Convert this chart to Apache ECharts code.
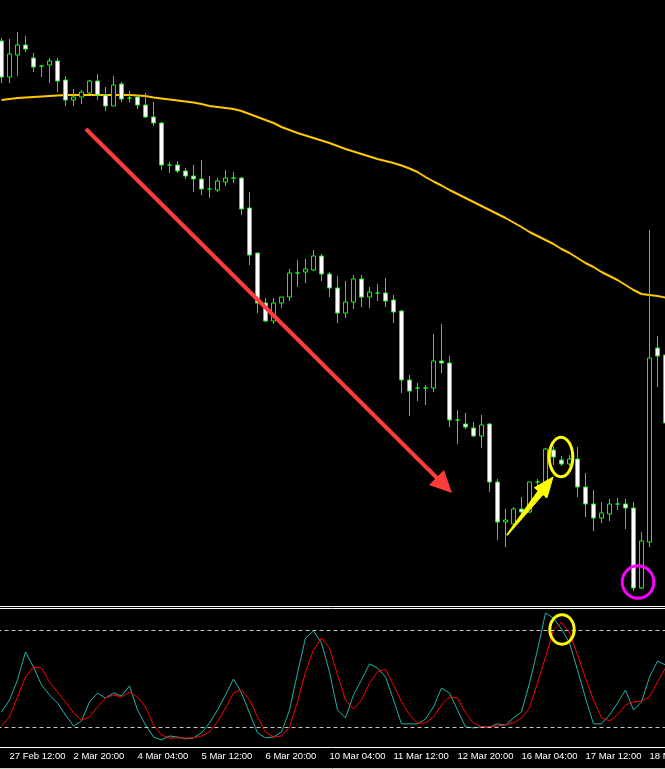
<!DOCTYPE html>
<html><head><meta charset="utf-8">
<script src="https://cdn.jsdelivr.net/npm/echarts@6/dist/echarts.min.js"></script>
<style>html,body{margin:0;padding:0;background:#000;}#c{width:665px;height:769px;}</style>
</head><body><div id="c"></div><script>
// H4 sessions (category axis)
const H = ['00:00','04:00','08:00','12:00','16:00','20:00'];
const sessions = [
  ['27 Feb',['08:00','12:00','16:00','20:00']],
  ['2 Mar',H],['3 Mar',H],['4 Mar',H],['5 Mar',H],['6 Mar',H],
  ['9 Mar',H],['10 Mar',H],['11 Mar',H],['12 Mar',H],['13 Mar',H],
  ['16 Mar',H],['17 Mar',H],['18 Mar',H],['19 Mar',['00:00','04:00']]
];
const categories = sessions.flatMap(([d, hs]) => hs.map(h => d + ' ' + h));

const tickLabels = ['27 Feb 12:00','2 Mar 20:00','4 Mar 04:00','5 Mar 12:00','6 Mar 20:00',
  '10 Mar 04:00','11 Mar 12:00','12 Mar 20:00','16 Mar 04:00','17 Mar 12:00','18 Mar 20:00'];

// [open, close, low, high]
const candles = [
 [1.5159,1.5123,1.5117,1.5162],[1.5123,1.5146,1.5117,1.5161],[1.5145,1.5155,1.5124,1.5168],[1.5155,1.5151,1.5148,1.5164],
 [1.5142,1.5133,1.5128,1.5147],[1.5134,1.5134,1.5123,1.5135],[1.5135,1.5139,1.5117,1.5142],[1.5139,1.5119,1.5108,1.5142],
 [1.5120,1.5100,1.5094,1.5124],[1.5100,1.5103,1.5094,1.5111],[1.5103,1.5108,1.5096,1.5110],[1.5107,1.5119,1.5106,1.5120],
 [1.5119,1.5105,1.5100,1.5126],[1.5105,1.5094,1.5089,1.5113],[1.5094,1.5115,1.5094,1.5124],[1.5116,1.5101,1.5098,1.5118],
 [1.5102,1.5102,1.5098,1.5109],[1.5103,1.5095,1.5091,1.5105],[1.5095,1.5083,1.5082,1.5107],[1.5083,1.5077,1.5074,1.5098],
 [1.5077,1.5035,1.5030,1.5078],[1.5035,1.5035,1.5027,1.5038],[1.5035,1.5029,1.5027,1.5039],[1.5029,1.5024,1.5021,1.5032],
 [1.5024,1.5021,1.5008,1.5035],[1.5021,1.5011,1.5005,1.5040],[1.5011,1.5011,1.5002,1.5024],[1.5010,1.5019,1.5008,1.5022],
 [1.5018,1.5022,1.5014,1.5030],[1.5022,1.5022,1.5017,1.5028],[1.5022,1.4991,1.4985,1.5023],[1.4992,1.4945,1.4935,1.5008],
 [1.4947,1.4897,1.4887,1.4947],[1.4897,1.4879,1.4878,1.4902],[1.4879,1.4897,1.4876,1.4902],[1.4897,1.4903,1.4892,1.4903],
 [1.4903,1.4927,1.4899,1.4931],[1.4927,1.4927,1.4913,1.4940],[1.4928,1.4931,1.4917,1.4941],[1.4930,1.4944,1.4929,1.4950],
 [1.4944,1.4926,1.4919,1.4946],[1.4926,1.4912,1.4903,1.4928],[1.4912,1.4887,1.4877,1.4924],[1.4887,1.4898,1.4882,1.4919],
 [1.4898,1.4921,1.4891,1.4925],[1.4921,1.4903,1.4893,1.4925],[1.4903,1.4908,1.4892,1.4913],[1.4907,1.4907,1.4899,1.4916],
 [1.4907,1.4899,1.4893,1.4922],[1.4900,1.4888,1.4877,1.4905],[1.4889,1.4820,1.4807,1.4890],[1.4820,1.4809,1.4784,1.4825],
 [1.4812,1.4812,1.4799,1.4817],[1.4812,1.4812,1.4795,1.4815],[1.4812,1.4839,1.4808,1.4866],[1.4839,1.4837,1.4827,1.4876],
 [1.4837,1.4780,1.4773,1.4844],[1.4780,1.4780,1.4756,1.4790],[1.4776,1.4773,1.4771,1.4787],[1.4772,1.4764,1.4763,1.4778],
 [1.4764,1.4775,1.4752,1.4785],[1.4776,1.4718,1.4708,1.4777],[1.4718,1.4678,1.4660,1.4721],[1.4678,1.4680,1.4653,1.4691],
 [1.4676,1.4691,1.4673,1.4693],[1.4691,1.4688,1.4683,1.4703],[1.4688,1.4718,1.4687,1.4718],[1.4718,1.4718,1.4713,1.4721],
 [1.4718,1.4751,1.4702,1.4752],[1.4750,1.4743,1.4735,1.4754],[1.4740,1.4736,1.4734,1.4744],[1.4736,1.4741,1.4734,1.4745],
 [1.4741,1.4713,1.4703,1.4753],[1.4713,1.4696,1.4683,1.4727],[1.4696,1.4682,1.4669,1.4710],[1.4682,1.4687,1.4677,1.4698],
 [1.4686,1.4696,1.4679,1.4701],[1.4696,1.4696,1.4690,1.4702],[1.4696,1.4692,1.4671,1.4701],[1.4692,1.4612,1.4609,1.4698],
 [1.4612,1.4659,1.4611,1.4668],[1.4658,1.4842,1.4653,1.4970],[1.4852,1.4844,1.4813,1.4864],[1.4845,1.4777,1.4772,1.4848]
];

const ma = [
 1.5100,1.5101,1.5102,1.51025,1.5103,1.51035,1.5104,1.51045,1.5105,1.5105,
 1.5105,1.5105,1.5105,1.5105,1.5105,1.5105,1.5105,1.51045,1.5104,1.51025,
 1.51015,1.51005,1.50995,1.50985,1.50975,1.5096,1.5094,1.5093,1.5092,1.5091,
 1.5089,1.5086,1.5083,1.5080,1.5077,1.5073,1.5070,1.5067,1.50645,1.5062,
 1.50595,1.5057,1.5054,1.5051,1.50485,1.5046,1.50435,1.5041,1.5039,1.5037,
 1.50345,1.50315,1.5028,1.5023,1.50185,1.50145,1.5010,1.5006,1.5002,1.4998,
 1.4994,1.4990,1.4986,1.4982,1.49775,1.4973,1.4968,1.4964,1.4960,1.4956,
 1.4951,1.4947,1.4942,1.4937,1.4933,1.4928,1.4924,1.4920,1.4915,1.4910,
 1.4906,1.4905,1.4904,1.49025
];

const stochMain = [
 29.3,36.7,49.1,66.4,57.1,46.0,39.8,34.8,27.4,20.6,
 23.7,35.5,41.0,37.9,41.0,39.2,45.4,30.5,21.2,13.8,
 12.0,14.4,13.8,12.6,13.2,16.3,22.5,30.5,39.8,49.7,
 41.0,28.7,16.3,13.2,13.8,16.9,30.5,53.4,75.1,79.4,
 72.0,54.0,30.5,25.6,39.8,49.1,59.0,56.5,50.9,36.7,
 21.9,21.9,21.9,24.9,32.4,44.1,41.0,30.5,20.0,19.4,
 20.0,20.0,21.9,21.2,25.6,29.3,47.2,67.6,90.5,87.4,
 80.6,72.0,55.3,37.9,21.9,21.9,27.4,34.8,42.9,30.5,
 35.5,50.9,60.8,58.3
];
const stochSignal = [
 20.6,26.2,38.6,50.9,57.1,56.5,47.8,41.6,35.5,28.7,
 24.3,26.2,32.4,37.9,39.8,38.6,41.6,38.6,32.4,21.2,
 15.0,13.2,13.2,13.2,13.2,14.4,16.9,23.1,31.7,41.0,
 42.9,36.7,26.2,16.9,13.8,14.4,20.0,35.6,54.0,67.6,
 75.1,68.9,52.2,36.7,31.1,36.7,47.0,54.2,55.7,46.0,
 35.6,27.4,22.3,22.5,26.2,33.6,38.6,37.9,28.7,22.5,
 20.0,20.0,20.6,21.2,22.5,25.6,31.7,47.2,63.3,80.0,
 84.7,78.1,64.5,50.3,36.7,25.7,23.7,27.4,33.6,35.5,
 36.1,38.6,47.8,56.5
];
const levels = [80, 20];

const tickSet = new Set(tickLabels);
const showTick = (i, v) => tickSet.has(v);

const chart = echarts.init(document.getElementById('c'), null, {renderer: 'canvas'});
chart.setOption({
  backgroundColor: '#000',
  animation: false,
  grid: [
    {left: -2.5, width: 672, top: 0, height: 605, outerBoundsMode: 'none', containLabel: false},
    {left: -2.5, width: 672, top: 609, height: 138, outerBoundsMode: 'none', containLabel: false}
  ],
  xAxis: [
    {type: 'category', data: categories, gridIndex: 0, show: false, boundaryGap: true},
    {type: 'category', data: categories, gridIndex: 1, boundaryGap: true,
     axisLine: {lineStyle: {color: '#ffffff', width: 1}},
     axisTick: {alignWithLabel: true, length: 4, interval: showTick, lineStyle: {color: '#ffffff'}},
     axisLabel: {interval: showTick, align: 'left', color: '#ffffff', fontSize: 9.5,
                 fontFamily: 'Liberation Sans', margin: 4, hideOverlap: false},
     splitLine: {show: false}}
  ],
  yAxis: [
    {gridIndex: 0, min: 1.4595, max: 1.5200, show: false, splitLine: {show: false}},
    {gridIndex: 1, min: 7.6, max: 93, show: false, splitLine: {show: false}}
  ],
  series: [
    {type: 'line', xAxisIndex: 0, yAxisIndex: 0, data: ma, symbol: 'none',
     lineStyle: {color: '#ffc800', width: 2}, z: 1},
    {type: 'candlestick', xAxisIndex: 0, yAxisIndex: 0, data: candles, barWidth: 4,
     itemStyle: {color: '#000000', color0: '#ffffff', borderColor: '#00ff00',
                 borderColor0: '#00ff00', borderColorDoji: '#00ff00', borderWidth: 1}, z: 3},
    {type: 'line', xAxisIndex: 1, yAxisIndex: 1, data: stochMain, symbol: 'none',
     lineStyle: {color: '#20b2aa', width: 1},
     markLine: {silent: true, symbol: 'none', label: {show: false},
                lineStyle: {color: '#c8c8c8', type: [4, 3], width: 1},
                data: levels.map(v => ({yAxis: v}))}},
    {type: 'line', xAxisIndex: 1, yAxisIndex: 1, data: stochSignal, symbol: 'none',
     lineStyle: {color: '#ff0000', width: 1}}
  ],
  graphic: [
    {type: 'line', z: 100, shape: {x1: 0, y1: 606.5, x2: 665, y2: 606.5}, style: {stroke: '#ffffff', lineWidth: 1}},
    {type: 'line', z: 100, shape: {x1: 0, y1: 608.5, x2: 665, y2: 608.5}, style: {stroke: '#ffffff', lineWidth: 1}},
    {type: 'line', z: 100, shape: {x1: 0, y1: 768.5, x2: 665, y2: 768.5}, style: {stroke: '#d4d0c8', lineWidth: 1}},
    // red arrow
    {type: 'line', z: 100, shape: {x1: 86, y1: 129, x2: 437, y2: 478}, style: {stroke: '#ff3c3c', lineWidth: 4}},
    {type: 'polygon', z: 100, shape: {points: [[452, 493], [429, 485], [444, 470]]}, style: {fill: '#ff3c3c'}},
    // yellow arrow
    {type: 'polygon', z: 100, shape: {points: [[507.4, 535.3], [543, 494.6], [547, 497.7], [553, 477], [534.3, 487.7], [538.2, 490.8], [506.6, 534.7]]},
     style: {fill: '#ffff00', stroke: '#ffff00', lineWidth: 1}},
    // circles
    {type: 'ellipse', z: 100, shape: {cx: 561, cy: 457, rx: 11.8, ry: 19.8}, style: {fill: 'none', stroke: '#ffff00', lineWidth: 3}},
    {type: 'ellipse', z: 100, shape: {cx: 638, cy: 582, rx: 15.8, ry: 16.3}, style: {fill: 'none', stroke: '#ff00ff', lineWidth: 3}},
    {type: 'ellipse', z: 100, shape: {cx: 562, cy: 629.5, rx: 12.2, ry: 14.7}, style: {fill: 'none', stroke: '#ffff00', lineWidth: 3}}
  ]
});
</script></body></html>
